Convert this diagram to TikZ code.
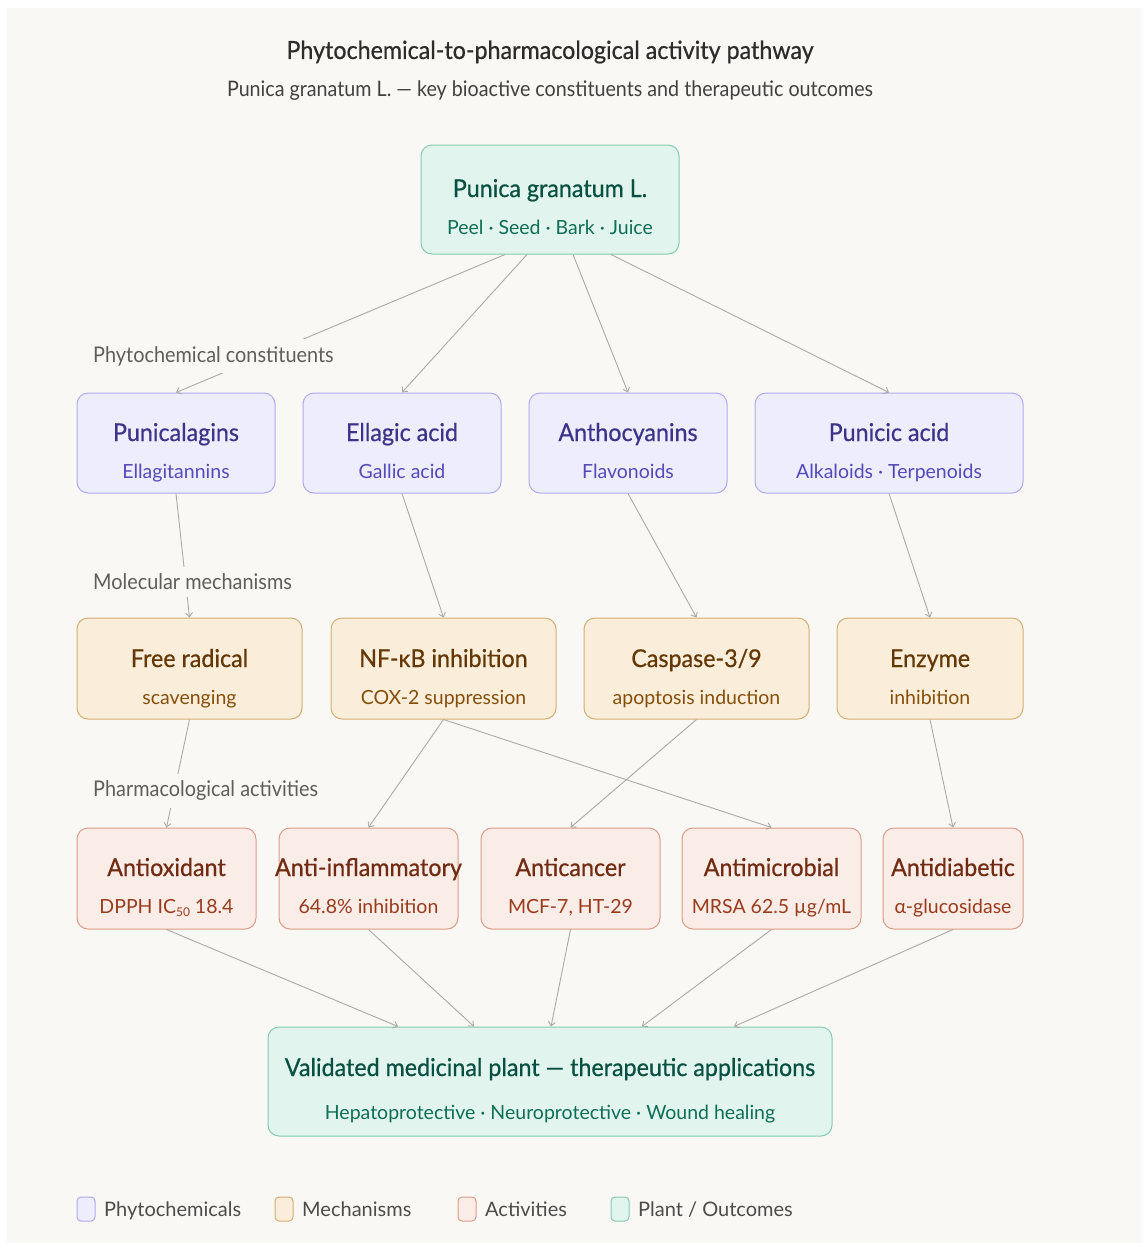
\documentclass[tikz,border=0pt]{standalone}
\usepackage{fontspec}
\setmainfont{Lato}
\newfontfamily\medfont{Lato}[FakeStretch=0.95,FakeBold=0.6]
\newfontfamily\ttlfont{Lato}[FakeStretch=0.93,FakeBold=0.6]
\newfontfamily\lblfont{Lato}[FakeStretch=0.92]
\usetikzlibrary{arrows.meta,calc}
\definecolor{bgc}{HTML}{F9F8F5}
\definecolor{phyF}{HTML}{EEEDFE}\definecolor{phyD}{HTML}{AFA9EC}\definecolor{phyT}{HTML}{3C3489}\definecolor{phyS}{HTML}{534AB7}
\definecolor{mecF}{HTML}{FAEEDA}\definecolor{mecD}{HTML}{D3AE73}\definecolor{mecT}{HTML}{633806}\definecolor{mecS}{HTML}{854F0B}
\definecolor{actF}{HTML}{FAECE7}\definecolor{actD}{HTML}{DC9C86}\definecolor{actT}{HTML}{712B13}\definecolor{actS}{HTML}{993C1D}
\definecolor{plaF}{HTML}{E1F5EE}\definecolor{plaD}{HTML}{86CBAF}\definecolor{plaT}{HTML}{085041}\definecolor{plaS}{HTML}{0F6E56}
\definecolor{edgeC}{HTML}{ABAAA5}
\definecolor{lblC}{HTML}{5F5E5A}
\definecolor{ttlC}{HTML}{2C2C2A}
\newcommand\nodetxt[3]{{\color{#1}\medfont\fontsize{24.5}{37}\selectfont #2}\\#3}
\tikzset{
  box/.style={rounded corners=11pt, line width=1pt, inner sep=0pt, align=center,
    font=\fontsize{19.5}{37}\selectfont, text height=70pt, text depth=0pt},
  phy/.style={box, fill=phyF, draw=phyD, text=phyS, minimum height=100pt},
  mec/.style={box, fill=mecF, draw=mecD, text=mecS, minimum height=101pt},
  act/.style={box, fill=actF, draw=actD, text=actS, minimum height=101pt},
  pla/.style={box, fill=plaF, draw=plaD, text=plaS, minimum height=109pt},
  edge/.style={draw=edgeC, line width=0.9pt, -{Straight Barb[length=4pt,width=7pt]}},
  lbl/.style={anchor=west, fill=bgc, inner xsep=2pt, inner ysep=7pt, text=lblC, font=\lblfont\fontsize{21.6}{24}\selectfont},
  legsq/.style={rounded corners=4pt, line width=1pt, minimum width=18pt, minimum height=24pt, inner sep=0pt},
  legtxt/.style={anchor=base west, inner sep=0pt, text=ttlC!85, font=\fontsize{20}{24}\selectfont}
}
\begin{document}
\begin{tikzpicture}[x=1pt,y=-1pt]
\useasboundingbox (0,0) rectangle (1145,1243);
\fill[white] (0,0) rectangle (1145,1243);
\fill[bgc] (7,8) rectangle (1142,1243);

\node[font=\ttlfont\fontsize{25}{30}\selectfont, text=ttlC] (title) at (550,52) {Phytochemical-to-pharmacological activity pathway};
\node[font=\lblfont\fontsize{21.4}{26}\selectfont, text=ttlC!90] (subtitle) at (550,91) {Punica granatum L. — key bioactive constituents and therapeutic outcomes};

% plant
\node[pla, minimum width=258pt, text height=69pt] (plant) at (550,199.5) {\nodetxt{plaT}{Punica granatum L.}{Peel · Seed · Bark · Juice}};

% phytochemicals
\node[phy, minimum width=198pt] (puni) at (176,443) {\nodetxt{phyT}{Punicalagins}{Ellagitannins}};
\node[phy, minimum width=198pt] (ella) at (402,443) {\nodetxt{phyT}{Ellagic acid}{Gallic acid}};
\node[phy, minimum width=198pt] (anth) at (628,443) {\nodetxt{phyT}{Anthocyanins}{Flavonoids}};
\node[phy, minimum width=268pt] (pacid) at (889,443) {\nodetxt{phyT}{Punicic acid}{Alkaloids · Terpenoids}};

% mechanisms
\node[mec, minimum width=225pt, text height=71pt] (free) at (189.5,668.5) {\nodetxt{mecT}{Free radical}{scavenging}};
\node[mec, minimum width=225pt, text height=71pt] (nfkb) at (443.5,668.5) {\nodetxt{mecT}{NF-κB inhibition}{COX-2 suppression}};
\node[mec, minimum width=225pt, text height=71pt] (casp) at (696.5,668.5) {\nodetxt{mecT}{Caspase-3/9}{apoptosis induction}};
\node[mec, minimum width=186pt, text height=71pt] (enzy) at (930,668.5) {\nodetxt{mecT}{Enzyme}{inhibition}};

% activities
\node[act, minimum width=179pt, text height=69pt] (aox) at (166.5,878.5) {\nodetxt{actT}{Antioxidant}{DPPH IC\raisebox{-3pt}{\fontsize{12}{12}\selectfont 50} 18.4}};
\node[act, minimum width=179pt, text height=69pt] (ainf) at (368.5,878.5) {\nodetxt{actT}{\makebox[170pt][c]{Anti-inflammatory}}{64.8\% inhibition}};
\node[act, minimum width=179pt, text height=69pt] (acan) at (570.5,878.5) {\nodetxt{actT}{Anticancer}{MCF-7, HT-29}};
\node[act, minimum width=179pt, text height=69pt] (amic) at (771.5,878.5) {\nodetxt{actT}{Antimicrobial}{MRSA 62.5 µg/mL}};
\node[act, minimum width=140pt, text height=69pt] (adia) at (953,878.5) {\nodetxt{actT}{Antidiabetic}{α-glucosidase}};

% outcome
\node[pla, minimum width=564pt, text height=75pt] (outc) at (550,1081.5) {{\color{plaT}\medfont\fontsize{24.5}{43}\selectfont Validated medicinal plant — therapeutic applications}\\[6pt]Hepatoprotective · Neuroprotective · Wound healing};

% edges
\draw[edge] ($(plant.south)+(-45,0)$) -- (puni.north);
\draw[edge] ($(plant.south)+(-23,0)$) -- (ella.north);
\draw[edge] ($(plant.south)+(23,0)$) -- (anth.north);
\draw[edge] ($(plant.south)+(61,0)$) -- (pacid.north);
\draw[edge] (puni.south) -- (free.north);
\draw[edge] (ella.south) -- (nfkb.north);
\draw[edge] (anth.south) -- (casp.north);
\draw[edge] (pacid.south) -- (enzy.north);
\draw[edge] (free.south) -- (aox.north);
\draw[edge] (nfkb.south) -- (ainf.north);
\draw[edge] (nfkb.south) -- (amic.north);
\draw[edge] (casp.south) -- (acan.north);
\draw[edge] (enzy.south) -- (adia.north);
\draw[edge] (aox.south) -- ($(outc.north)+(-152,0)$);
\draw[edge] (ainf.south) -- ($(outc.north)+(-76,0)$);
\draw[edge] (acan.south) -- ($(outc.north)+(1,0)$);
\draw[edge] (amic.south) -- ($(outc.north)+(92,0)$);
\draw[edge] (adia.south) -- ($(outc.north)+(184,0)$);

% section labels
\node[lbl] (l1) at (91,356) {Phytochemical constituents};
\node[lbl] (l2) at (91,582) {Molecular mechanisms};
\node[lbl] (l3) at (91,791) {Pharmacological activities};

% legend
\node[legsq, fill=phyF, draw=phyD] (g1) at (86,1209) {};
\node[legtxt] (t1) at (104,1216) {Phytochemicals};
\node[legsq, fill=mecF, draw=mecD] (g2) at (284,1209) {};
\node[legtxt] (t2) at (302,1216) {Mechanisms};
\node[legsq, fill=actF, draw=actD] (g3) at (467,1209) {};
\node[legtxt] (t3) at (485,1216) {Activities};
\node[legsq, fill=plaF, draw=plaD] (g4) at (620,1209) {};
\node[legtxt] (t4) at (638,1216) {Plant / Outcomes};
\end{tikzpicture}
\end{document}
